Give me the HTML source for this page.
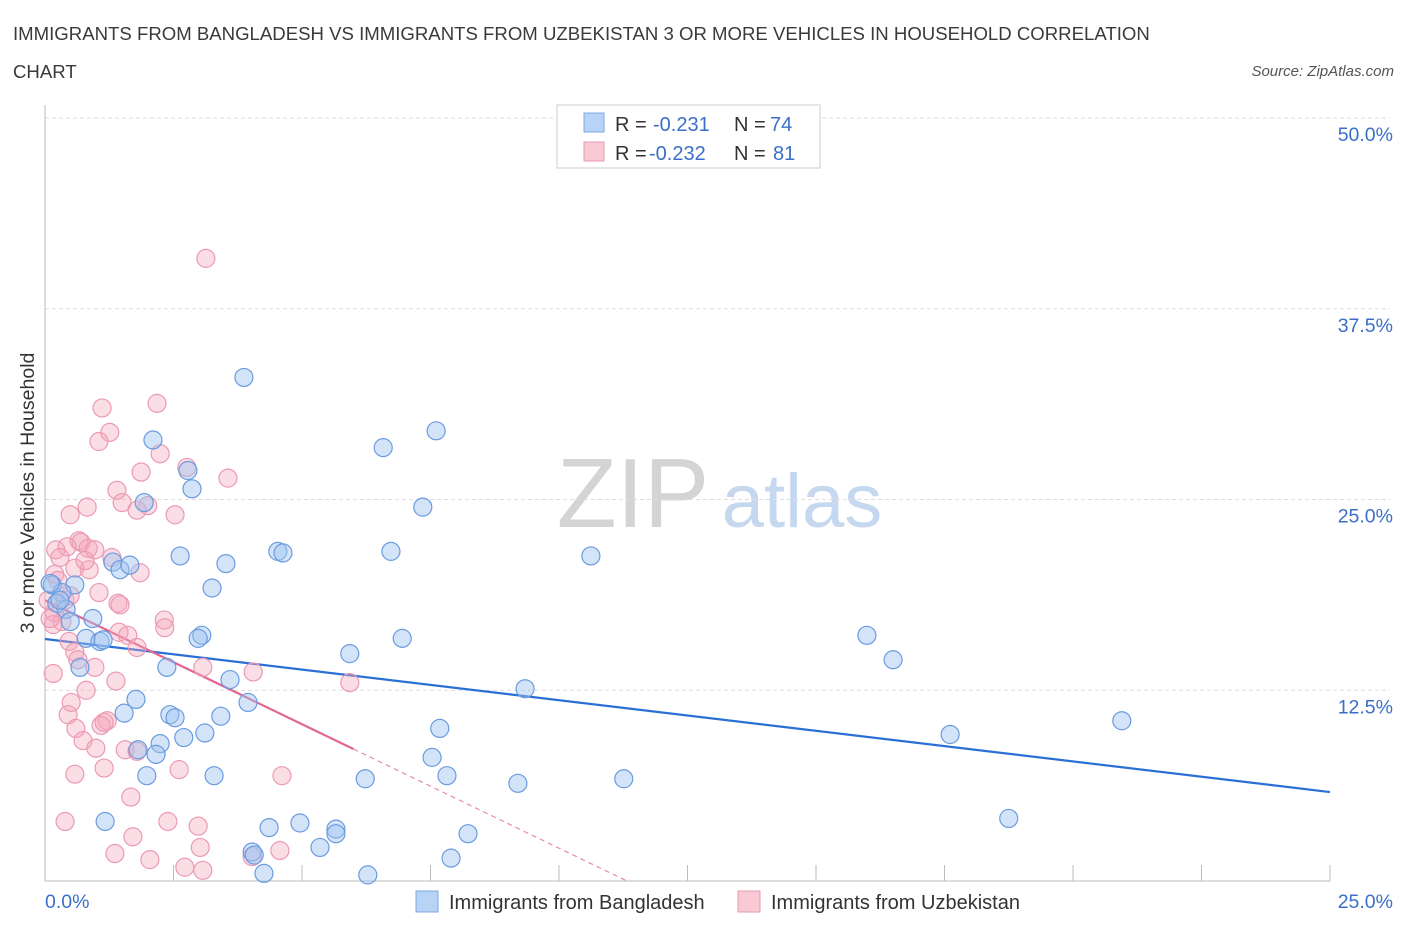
<!DOCTYPE html>
<html><head><meta charset="utf-8"><style>
body{margin:0;background:#fff;font-family:"Liberation Sans",sans-serif;}
svg text{font-family:"Liberation Sans",sans-serif;}
</style></head><body>
<svg id="chart" width="1406" height="930" xmlns="http://www.w3.org/2000/svg">
<text x="13" y="40" font-size="18.6" fill="#3a3a3a">IMMIGRANTS FROM BANGLADESH VS IMMIGRANTS FROM UZBEKISTAN 3 OR MORE VEHICLES IN HOUSEHOLD CORRELATION</text>
<text x="13" y="78" font-size="18.6" fill="#3a3a3a">CHART</text>
<text x="1394" y="76" font-size="15" fill="#555" font-style="italic" text-anchor="end">Source: ZipAtlas.com</text>
<g>
<text x="633" y="527" font-size="98" fill="#d4d4d4" font-family="Liberation Serif" text-anchor="middle">ZIP</text>
<text x="802" y="527" font-size="76" fill="#c6d8ef" text-anchor="middle">atlas</text>
</g>
<g id="grid"></g>
<g id="axes"></g>
<text transform="translate(34,493) rotate(-90)" font-size="19.5" fill="#333" text-anchor="middle">3 or more Vehicles in Household</text>
<g id="lines"></g>
<g id="points"></g>
<g>
<rect x="557" y="105" width="263" height="63" fill="#fff" stroke="#ccc"/>
<rect x="584" y="113" width="20" height="19" fill="#b7d3f5" stroke="#7ea8e0"/>
<rect x="584" y="142" width="20" height="19" fill="#f9c9d6" stroke="#e59ab0"/>
<text x="615" y="131" font-size="20" fill="#333">R =</text>
<text x="653" y="131" font-size="20" fill="#3a6fc9">-0.231</text>
<text x="734" y="131" font-size="20" fill="#333">N =</text>
<text x="770" y="131" font-size="20" fill="#3a6fc9">74</text>
<text x="615" y="160" font-size="20" fill="#333">R =</text>
<text x="649" y="160" font-size="20" fill="#3a6fc9">-0.232</text>
<text x="734" y="160" font-size="20" fill="#333">N =</text>
<text x="773" y="160" font-size="20" fill="#3a6fc9">81</text>
</g>
<g>
<rect x="416" y="891" width="22" height="21" fill="#b7d3f5" stroke="#7ea8e0"/>
<text x="449" y="909" font-size="20" fill="#333">Immigrants from Bangladesh</text>
<rect x="738" y="891" width="22" height="21" fill="#f9c9d6" stroke="#e59ab0"/>
<text x="771" y="909" font-size="20" fill="#333">Immigrants from Uzbekistan</text>
</g>
</svg>
<script>
const yTicks=[12.5,25,37.5,50];
const yTickLabels=["12.5%","25.0%","37.5%","50.0%"];
const xTickLabels=["0.0%","25.0%"];
const blueX=[3.87,2.10,7.61,6.58,2.78,2.86,1.93,7.35,2.63,3.52,4.53,4.63,6.73,10.62,1.32,1.46,1.65,0.58,0.14,0.33,3.25,0.23,0.41,0.93,0.49,3.05,2.98,6.95,15.99,0.80,1.07,1.13,5.93,16.50,0.68,2.37,3.60,9.34,1.77,3.95,1.54,2.43,2.53,3.42,7.68,20.95,17.61,2.70,3.11,2.24,1.81,2.16,7.53,1.98,3.29,6.23,7.82,9.20,11.26,1.17,4.36,4.96,5.66,5.66,18.75,8.23,5.35,4.03,4.07,7.90,4.26,6.28,0.29,0.10];
const blueY=[33.0,28.9,29.5,28.4,26.9,25.7,24.8,24.5,21.3,20.8,21.6,21.5,21.6,21.3,20.9,20.4,20.7,19.4,19.4,18.9,19.2,18.2,17.8,17.2,17.0,16.1,15.9,15.9,16.1,15.9,15.7,15.8,14.9,14.5,14.0,14.0,13.2,12.6,11.9,11.7,11.0,10.9,10.7,10.8,10.0,10.5,9.6,9.4,9.7,9.0,8.6,8.3,8.1,6.9,6.9,6.7,6.9,6.4,6.7,3.9,3.5,3.8,3.4,3.1,4.1,3.1,2.2,1.9,1.7,1.5,0.5,0.4,18.4,19.5];
const pinkX=[3.13,2.18,1.11,1.26,1.05,2.24,2.76,1.87,3.56,1.40,1.50,2.00,0.82,0.49,1.79,2.53,0.66,0.70,0.84,0.43,0.21,0.29,1.85,0.19,0.86,1.05,1.42,1.46,2.32,0.18,0.33,0.16,2.33,1.44,1.61,0.47,1.79,0.58,0.64,0.16,0.97,3.07,4.05,5.93,0.80,1.38,0.51,0.45,1.21,1.09,1.15,0.60,0.74,0.99,1.56,1.79,0.58,1.15,2.61,4.61,1.67,0.39,2.39,1.71,2.98,3.02,1.36,2.04,4.03,4.57,2.72,3.07,0.58,0.06,0.10,0.39,0.78,0.97,0.25,0.49,1.30];
const pinkY=[40.8,31.3,31.0,29.4,28.8,28.0,27.1,26.8,26.4,25.6,24.8,24.6,24.5,24.0,24.3,24.0,22.3,22.2,21.8,21.9,21.7,21.2,20.2,20.1,20.4,18.9,18.2,18.1,17.1,17.6,17.0,16.8,16.6,16.3,16.1,15.7,15.3,15.0,14.5,13.6,14.0,14.0,13.7,13.0,12.5,13.1,11.7,10.9,10.5,10.2,10.4,10.0,9.2,8.7,8.6,8.5,7.0,7.4,7.3,6.9,5.5,3.9,3.9,2.9,3.6,2.2,1.8,1.4,1.6,2.0,0.9,0.7,20.5,18.4,17.2,18.4,21.0,21.7,19.7,18.7,21.2];
const blueTrend=[15.86,5.83];
const pinkTrend=[18.4,8.65];
const pinkTrendEndX=6.0;

const X0=45,X1=1330,Y0=881,Y1=118;
function sx(v){return X0+v/25*(X1-X0);}
function sy(v){return Y0-v/50*(Y0-Y1);}
const NS="http://www.w3.org/2000/svg";
function mk(tag,parent,attrs){const e=document.createElementNS(NS,tag);for(const k in attrs)e.setAttribute(k,attrs[k]);document.getElementById(parent).appendChild(e);return e;}

yTicks.forEach((t,i)=>{
  const g=mk('line','grid',{x1:X0,x2:X1+60,y1:sy(t),y2:sy(t),stroke:'#ddd','stroke-dasharray':'4,3'});
  
  
  const l=mk('text','grid',{x:1393,y:sy(t)+23,'font-size':19.5,fill:'#3a6fc9','text-anchor':'end'});
  l.textContent=yTickLabels[i];
  
  
});
const ax=mk('line','axes',{x1:X0,x2:X0,y1:105,y2:Y0,stroke:'#bbb'});


const bx=mk('line','axes',{x1:X0,x2:X1,y1:Y0,y2:Y0,stroke:'#bbb'});


for(let i=1;i<=10;i++){
  const t=mk('line','axes',{x1:sx(i*2.5),x2:sx(i*2.5),y1:Y0-16,y2:Y0,stroke:'#bbb'});
  
  
}
const xl0=mk('text','axes',{x:45,y:908,'font-size':19.5,fill:'#3a6fc9'});
xl0.textContent=xTickLabels[0];


const xl1=mk('text','axes',{x:1393,y:908,'font-size':19.5,fill:'#3a6fc9','text-anchor':'end'});
xl1.textContent=xTickLabels[1];



pinkX.forEach((v,i)=>{
  const c=mk('circle','points',{cx:sx(v),cy:sy(pinkY[i]),r:9,fill:'rgba(244,165,188,0.38)',stroke:'#eb9ab2','stroke-width':1.2});
  
  
});
blueX.forEach((v,i)=>{
  const c=mk('circle','points',{cx:sx(v),cy:sy(blueY[i]),r:9,fill:'rgba(160,196,240,0.45)',stroke:'#6a9be0','stroke-width':1.2});
  
  
});
const bl=mk('line','lines',{x1:sx(0),y1:sy(blueTrend[0]),x2:sx(25),y2:sy(blueTrend[1]),stroke:'#2a6fd6','stroke-width':2.2});


const slope=(pinkTrend[1]-pinkTrend[0])/pinkTrendEndX;
const zx=-pinkTrend[0]/slope;
const pd=mk('line','lines',{x1:sx(pinkTrendEndX),y1:sy(pinkTrend[1]),x2:sx(zx),y2:sy(0),stroke:'#e88aa6','stroke-width':1.2,'stroke-dasharray':'5,4'});


const pl=mk('line','lines',{x1:sx(0),y1:sy(pinkTrend[0]),x2:sx(pinkTrendEndX),y2:sy(pinkTrend[1]),stroke:'#e2668f','stroke-width':2.2});


</script>
</body></html>
